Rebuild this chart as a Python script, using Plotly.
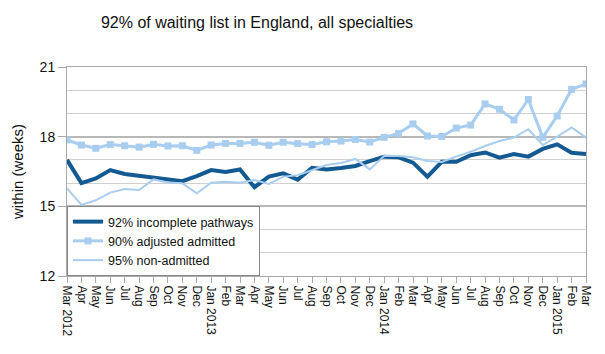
import plotly.graph_objects as go

months = ["Mar 2012", "Apr", "May", "Jun", "Jul", "Aug", "Sep", "Oct", "Nov", "Dec",
          "Jan 2013", "Feb", "Mar", "Apr ", "May ", "Jun ", "Jul ", "Aug ", "Sep ", "Oct ", "Nov ", "Dec ",
          "Jan 2014", "Feb ", "Mar ", "Apr  ", "May  ", "Jun  ", "Jul  ", "Aug  ", "Sep  ", "Oct  ", "Nov  ", "Dec  ",
          "Jan 2015", "Feb  ", "Mar  "]

incomplete = [17.0, 16.0, 16.2, 16.56, 16.39, 16.32, 16.23, 16.16, 16.08, 16.3,
              16.56, 16.48, 16.59, 15.82, 16.28, 16.42, 16.15, 16.66, 16.59, 16.65, 16.74, 16.95,
              17.14, 17.11, 16.88, 16.28, 16.92, 16.92, 17.2, 17.32, 17.1, 17.25, 17.14, 17.47,
              17.67, 17.31, 17.25]

adjusted_admitted = [17.86, 17.64, 17.5, 17.66, 17.61, 17.55, 17.67, 17.6, 17.61, 17.41,
                     17.64, 17.71, 17.71, 17.76, 17.63, 17.76, 17.7, 17.66, 17.78, 17.81, 17.88, 17.77,
                     17.97, 18.14, 18.55, 18.03, 18.01, 18.37, 18.5, 19.41, 19.18, 18.72, 19.6, 17.97,
                     18.89, 20.04, 20.27]

non_admitted = [15.78, 15.06, 15.26, 15.59, 15.75, 15.7, 16.16, 16.03, 15.99, 15.56,
                16.02, 16.06, 16.02, 16.13, 15.96, 16.28, 16.34, 16.56, 16.78, 16.87, 17.04, 16.59,
                17.17, 17.17, 17.11, 16.95, 16.91, 17.14, 17.35, 17.6, 17.81, 17.96, 18.32, 17.64,
                18.0, 18.4, 17.96]

dark = "#145a92"
light = "#a8cdef"

fig = go.Figure()
fig.add_trace(go.Scatter(x=months, y=incomplete, mode="lines", name="92% incomplete pathways",
                         line=dict(color=dark, width=4)))
fig.add_trace(go.Scatter(x=months, y=adjusted_admitted, mode="lines+markers", name="90% adjusted admitted",
                         line=dict(color=light, width=3), marker=dict(symbol="square", size=7, color=light)))
fig.add_trace(go.Scatter(x=months, y=non_admitted, mode="lines", name="95% non-admitted",
                         line=dict(color=light, width=2)))

fig.update_layout(
    width=605, height=354,
    margin=dict(l=67, r=13, t=67, b=78),
    paper_bgcolor="white", plot_bgcolor="white",
    font=dict(family="Liberation Sans, Arial, sans-serif", color="#111111"),
    title=dict(text="92% of waiting list in England, all specialties", x=257/605, xanchor="center",
               y=1 - 22/354, yanchor="middle", font=dict(size=16, color="#111111")),
    showlegend=True,
    legend=dict(x=0, xanchor="left", y=0, yanchor="bottom", bgcolor="white",
                bordercolor="#888888", borderwidth=1, font=dict(size=12.5),
                tracegroupgap=0, itemwidth=30),
)
fig.update_xaxes(
    type="category", range=[0, 36], tickangle=90, tickfont=dict(size=12),
    ticks="outside", ticklen=6, tickcolor="#aaaaaa",
    showgrid=False, showline=True, linecolor="#aaaaaa", linewidth=1, mirror=True,
)
fig.update_yaxes(
    range=[12, 21], dtick=3, tick0=12, tickfont=dict(size=14),
    ticks="outside", ticklen=8, tickcolor="#aaaaaa",
    showgrid=True, gridcolor="#b8b8b8", gridwidth=2,
    minor=dict(dtick=1, showgrid=True, gridcolor="#d0d0d0", gridwidth=1),
    showline=True, linecolor="#aaaaaa", linewidth=1, mirror=True,
    title=dict(text="within (weeks)", font=dict(size=15), standoff=12),
    zeroline=False,
)

fig.write_html("out.html")
